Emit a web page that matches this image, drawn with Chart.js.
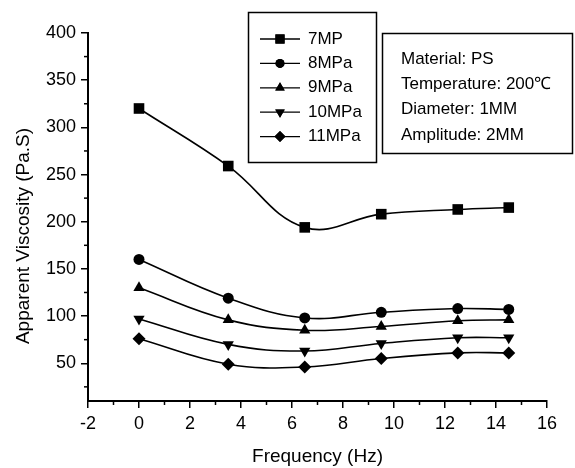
<!DOCTYPE html>
<html>
<head>
<meta charset="utf-8">
<script src="https://cdn.jsdelivr.net/npm/chart.js@4.4.1/dist/chart.umd.min.js"></script>
<style>
  html, body { margin: 0; padding: 0; background: #fff; }
  #wrap { width: 575px; height: 468px; }
</style>
</head>
<body>
<div id="wrap"><canvas id="visc-chart" width="575" height="468"></canvas></div>
<script>
// data
const freq = [0, 3.5, 6.5, 9.5, 12.5, 14.5];
const mp7 = [320, 259, 194, 208, 213, 215];
const mp8 = [160, 119, 98, 104, 108, 107];
const mp9 = [130, 96, 85, 89, 95, 96];
const mp10 = [97, 70, 63, 71, 77, 77];
const mp11 = [76, 49, 46, 55, 61, 61];
const seriesLabels = ["7MP", "8MPa", "9MPa", "10MPa", "11MPa"];
const xTicks = [-2, 0, 2, 4, 6, 8, 10, 12, 14, 16];
const yTicks = [50, 100, 150, 200, 250, 300, 350, 400];
const infoLines = ["Material: PS", "Temperature: 200\u2103", "Diameter: 1MM", "Amplitude: 2MM"];
const yTitle = "Apparent Viscosity (Pa.S)";

const FONT = "'Liberation Sans', Arial, sans-serif";

const markers = [
  { style: "rect", radius: 7.5, rotation: 0 },
  { style: "circle", radius: 5.5, rotation: 0 },
  { style: "triangle", radius: 6.5, rotation: 0 },
  { style: "triangle", radius: 6.5, rotation: 180 },
  { style: "rectRot", radius: 6.5, rotation: 0 }
];

function pts(ys) {
  return freq.map((x, i) => ({ x: x, y: ys[i] }));
}

const allSeries = [mp7, mp8, mp9, mp10, mp11];

const datasets = allSeries.map((ys, i) => ({
  label: seriesLabels[i],
  data: pts(ys),
  borderColor: "#000",
  backgroundColor: "#000",
  borderWidth: 1.6,
  pointStyle: markers[i].style,
  pointRadius: markers[i].radius,
  pointRotation: markers[i].rotation,
  pointBorderWidth: 0,
  tension: 0.4
}));

// minor ticks, y title, legend box and info box
const extras = {
  id: "extras",
  afterDraw(chart) {
    const ctx = chart.ctx;
    const xs = chart.scales.x;
    const ys = chart.scales.y;
    ctx.save();
    ctx.strokeStyle = "#000";
    ctx.fillStyle = "#000";
    ctx.lineWidth = 1.5;

    // minor ticks
    for (let i = 0; i < xTicks.length - 1; i++) {
      const px = xs.getPixelForValue((xTicks[i] + xTicks[i + 1]) / 2);
      ctx.beginPath();
      ctx.moveTo(px, xs.top);
      ctx.lineTo(px, xs.top + 4);
      ctx.stroke();
    }
    for (const v of yTicks) {
      const py = ys.getPixelForValue(v - 25);
      ctx.beginPath();
      ctx.moveTo(ys.right, py);
      ctx.lineTo(ys.right - 4, py);
      ctx.stroke();
    }

    // y axis title (sits a bit below the plot centre in the original)
    ctx.save();
    ctx.translate(24, 236);
    ctx.rotate(-Math.PI / 2);
    ctx.font = "19px " + FONT;
    ctx.textAlign = "center";
    ctx.textBaseline = "middle";
    ctx.fillText(yTitle, 0, 0);
    ctx.restore();

    // legend box
    ctx.lineWidth = 1.5;
    ctx.strokeRect(248.5, 12.5, 128, 150);
    ctx.font = "17px " + FONT;
    ctx.textBaseline = "middle";
    chart.data.datasets.forEach((ds, i) => {
      const y = 39 + i * 24.4;
      ctx.lineWidth = 1.3;
      ctx.beginPath();
      ctx.moveTo(260, y);
      ctx.lineTo(300, y);
      ctx.stroke();
      Chart.helpers.drawPoint(ctx, {
        pointStyle: ds.pointStyle,
        radius: ds.pointRadius - 1,
        rotation: ds.pointRotation,
        borderWidth: 0
      }, 280, y);
      ctx.fill();
      ctx.fillText(ds.label, 308, y);
    });

    // info box
    ctx.lineWidth = 1.5;
    ctx.strokeRect(382.5, 33.5, 190, 120);
    infoLines.forEach((t, i) => {
      ctx.fillText(t, 401, 59 + i * 25.3);
    });
    ctx.restore();
  }
};

const chart = new Chart(document.getElementById("visc-chart"), {
  type: "line",
  data: { datasets: datasets },
  options: {
    responsive: false,
    animation: false,
    devicePixelRatio: 1,
    layout: { padding: { top: 33, right: 28, left: 0, bottom: 0 } },
    plugins: {
      legend: { display: false },
      tooltip: { enabled: false }
    },
    scales: {
      x: {
        type: "linear",
        min: -2,
        max: 16,
        afterBuildTicks: (s) => { s.ticks = xTicks.map(v => ({ value: v })); },
        afterFit: (s) => { s.height = 67; },
        grid: { display: true, drawOnChartArea: false, drawTicks: true, tickLength: 7, color: "#000", lineWidth: 1.5 },
        border: { display: true, color: "#000", width: 2 },
        ticks: { color: "#000", font: { family: FONT, size: 18 }, padding: 5, maxRotation: 0 },
        title: { display: true, text: "Frequency (Hz)", color: "#000", font: { family: FONT, size: 19 }, padding: { top: 4, bottom: 0 } }
      },
      y: {
        type: "linear",
        min: 10,
        max: 400,
        afterBuildTicks: (s) => { s.ticks = yTicks.map(v => ({ value: v })); },
        afterFit: (s) => { s.width = 88; },
        grid: { display: true, drawOnChartArea: false, drawTicks: true, tickLength: 7, color: "#000", lineWidth: 1.5 },
        border: { display: true, color: "#000", width: 2 },
        ticks: { color: "#000", font: { family: FONT, size: 18 }, padding: 5 },
        title: { display: false }
      }
    }
  },
  plugins: [extras]
});
</script>
</body>
</html>
